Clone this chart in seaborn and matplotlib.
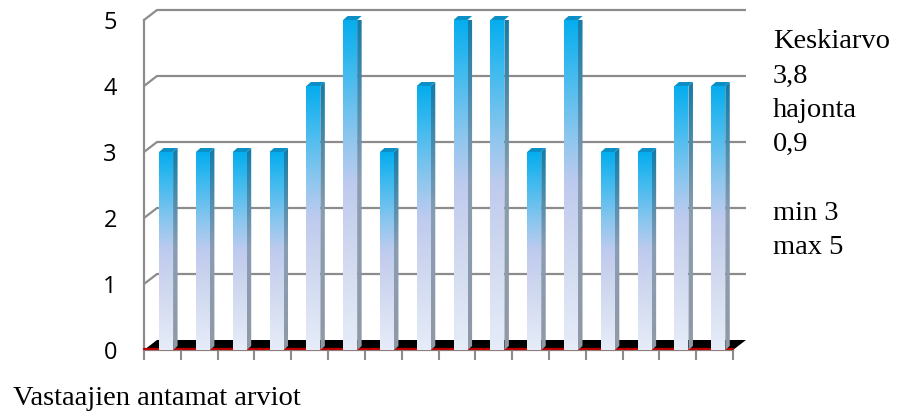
import numpy as np
import pandas as pd
import matplotlib
matplotlib.use("Agg")
import matplotlib.pyplot as plt
import seaborn as sns
from matplotlib.colors import LinearSegmentedColormap
from matplotlib.patches import Polygon

# ---- data ----
respondents = [f"R{i+1}" for i in range(16)]
ratings = [3, 3, 3, 3, 4, 5, 3, 4, 5, 5, 3, 5, 3, 3, 4, 4]
y_ticks = [0, 1, 2, 3, 4, 5]
stats_lines = ["Keskiarvo", "3,8", "hajonta", "0,9", "", "min 3", "max 5"]
x_title = "Vastaajien antamat arviot"

sns.set_theme(style="white")
plt.rcParams['font.family'] = ['Open Sans', 'DejaVu Sans']

W, H = 897, 416
fig = plt.figure(figsize=(W / 100, H / 100), dpi=100)
ax = fig.add_axes([144 / W, 66 / H, 589 / W, 330 / H])

df = pd.DataFrame({"respondent": respondents, "rating": ratings})
sns.barplot(data=df, x="respondent", y="rating", ax=ax, width=0.38,
            color="#1aaeea", zorder=3, errorbar=None)

XMIN, XMAX = -0.5, 15.5
pxx = 589 / 16.0
pxy = 330 / 5.0
DX, DY = 13 / pxx, 10 / pxy          # wall depth
bdx, bdy = 4.5 / pxx, 4 / pxy        # bar depth

front_cmap = LinearSegmentedColormap.from_list("front", [
    (0.0, "#e6ecf8"), (0.35, "#ccd5ee"), (0.5, "#bfcbee"),
    (0.65, "#8cc6ef"), (0.85, "#3ebaee"), (1.0, "#05adef")])
side_cmap = LinearSegmentedColormap.from_list("side", [
    (0.0, "#9099a6"), (0.5, "#8a9db3"), (1.0, "#127ca8")])
grad = np.linspace(0, 1, 256).reshape(-1, 1)

grid_c = "#8c8c8c"
# back-wall gridlines
for yv in y_ticks[1:]:
    ax.plot([XMIN, XMIN + DX, XMAX + DX], [yv, yv + DY, yv + DY],
            color=grid_c, lw=1.6, zorder=1, clip_on=False, solid_capstyle="butt")

# floor
floor = Polygon([(XMIN, 0), (XMAX, 0), (XMAX + DX, DY), (XMIN + DX, DY)],
                closed=True, facecolor="#000000", edgecolor="none", zorder=2,
                clip_on=False)
ax.add_patch(floor)
ax.plot([XMIN, XMAX], [0.012, 0.012], color="#c00000", lw=1.6, zorder=2.6,
        clip_on=False)

# bars: gradient front face, side and top
for p in ax.patches[:]:
    if p is floor:
        continue
    p.set_x(p.get_x() + 0.1)
    x0 = p.get_x()
    w = p.get_width()
    h = p.get_height()
    x1 = x0 + w
    p.set_facecolor("none")
    p.set_edgecolor("none")
    im = ax.imshow(grad, extent=[x0, x1, 0, h], origin="lower", aspect="auto",
                   cmap=front_cmap, zorder=3, interpolation="bilinear")
    im.set_clip_path(p)
    side = Polygon([(x1, 0), (x1 + bdx, bdy), (x1 + bdx, h + bdy), (x1, h)],
                   closed=True, facecolor="none", edgecolor="none", zorder=3)
    ax.add_patch(side)
    ims = ax.imshow(grad, extent=[x1, x1 + bdx, 0, h + bdy], origin="lower",
                    aspect="auto", cmap=side_cmap, zorder=3,
                    interpolation="bilinear")
    ims.set_clip_path(side)
    top = Polygon([(x0, h), (x1, h), (x1 + bdx, h + bdy), (x0 + bdx, h + bdy)],
                  closed=True, facecolor="#0c8fc4", edgecolor="none", zorder=3.2,
                  clip_on=False)
    ax.add_patch(top)

ax.set_xlim(XMIN, XMAX)
ax.set_ylim(0, 5)
ax.set_xlabel("")
ax.set_ylabel("")
ax.set_xticks(np.arange(XMIN, XMAX + 0.01, 1.0))
ax.set_xticklabels([])
ax.set_yticks(y_ticks)
ax.set_yticklabels([str(v) for v in y_ticks], fontsize=17, color="#000000")
ax.tick_params(axis="both", direction="out", length=7, width=1.5, color=grid_c)
ax.tick_params(axis="y", pad=12.5)
ax.tick_params(axis="x", bottom=True)
for s in ["top", "right"]:
    ax.spines[s].set_visible(False)
for s in ["left", "bottom"]:
    ax.spines[s].set_color(grid_c)
    ax.spines[s].set_linewidth(1.6)
ax.spines["bottom"].set_zorder(2.5)
ax.set_facecolor("white")

serif = ["Liberation Serif", "DejaVu Serif"]
baselines = [48, 83, 117, 151, 186, 220, 254]
for line, b in zip(stats_lines, baselines):
    if line:
        fig.text(773 / W, 1 - b / H, line, fontsize=20.5, family=serif,
                 va="baseline", ha="left", color="#000000")
fig.text(13 / W, 1 - 405 / H, x_title, fontsize=20.5, family=serif,
         va="baseline", ha="left", color="#000000")

fig.savefig("out.png", dpi=100)
